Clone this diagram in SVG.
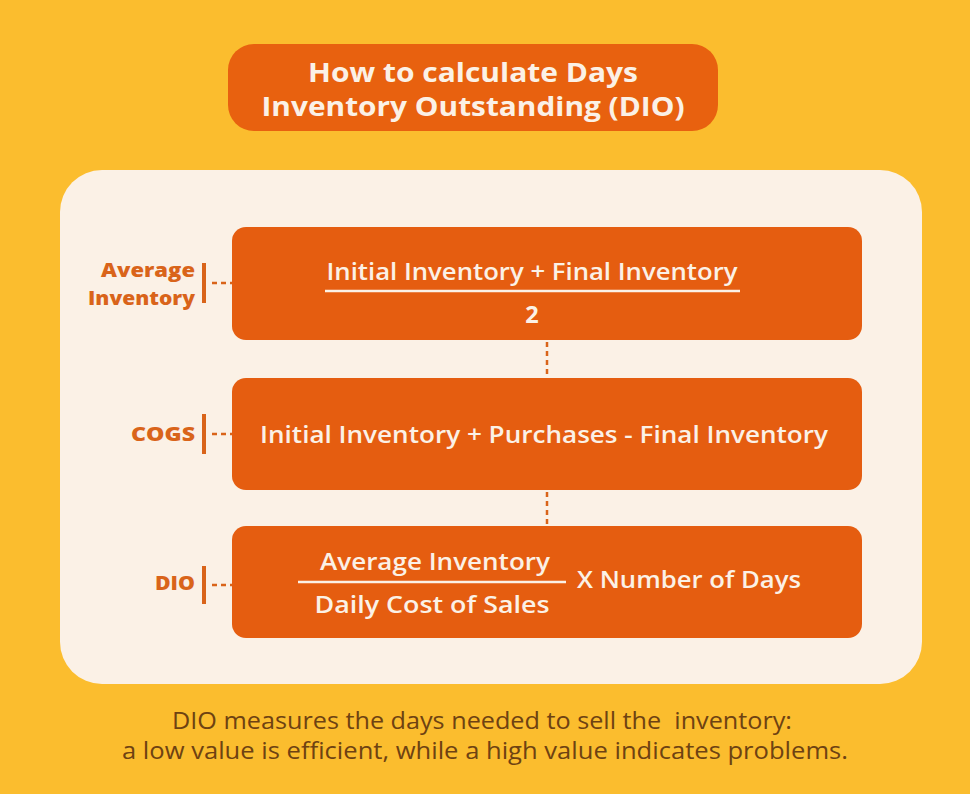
<svg xmlns="http://www.w3.org/2000/svg" width="970" height="794" viewBox="0 0 970 794">
<style>
.box{fill:#E55D10}
.wt{fill:#FBF1E6;font-family:"Open Sans","Noto Sans",sans-serif;font-weight:600;font-size:23.5px;text-anchor:middle}
.tt{font-weight:700;font-size:27.5px}
.lbl{fill:#D9641A;font-family:"Open Sans","Noto Sans",sans-serif;font-weight:800;font-size:20px;text-anchor:end}
.bar{stroke:#D9641A;stroke-width:4}
.dash{stroke:#D9641A;stroke-width:2.5;stroke-dasharray:5 4;fill:none}
.rule{stroke:#FBF1E6;stroke-width:2.5}
.foot{fill:#6E4212;font-family:"Open Sans","Noto Sans",sans-serif;font-size:23.5px;text-anchor:middle;white-space:pre}
</style>
<rect width="970" height="794" fill="#FBBD2E"/>
<g id="title">
<rect x="228" y="44" width="490" height="87" rx="26" fill="#E8610F"/>
<text class="wt tt" x="473" y="82" textLength="330" lengthAdjust="spacingAndGlyphs">How to calculate Days</text>
<text class="wt tt" x="473" y="116" textLength="423" lengthAdjust="spacingAndGlyphs">Inventory Outstanding (DIO)</text>
</g>
<rect id="panel" x="60" y="170" width="862" height="514" rx="42" fill="#FBF1E6"/>
<g id="connectors">
<line class="dash" x1="547" y1="342" x2="547" y2="377"/>
<line class="dash" x1="547" y1="492" x2="547" y2="525"/>
<line class="dash" x1="212" y1="283" x2="232" y2="283"/>
<line class="dash" x1="212" y1="434" x2="232" y2="434"/>
<line class="dash" x1="212" y1="585" x2="232" y2="585"/>
</g>
<g id="avg-inventory">
<text class="lbl" x="195" y="277" textLength="94" lengthAdjust="spacingAndGlyphs">Average</text>
<text class="lbl" x="195" y="305" textLength="107" lengthAdjust="spacingAndGlyphs">Inventory</text>
<line class="bar" x1="204" y1="263" x2="204" y2="303"/>
<rect class="box" x="232" y="227" width="630" height="113" rx="14"/>
<text class="wt" x="532" y="280" textLength="411" lengthAdjust="spacingAndGlyphs">Initial Inventory + Final Inventory</text>
<line class="rule" x1="325" y1="291" x2="740" y2="291"/>
<text class="wt" x="532" y="323" style="font-weight:700">2</text>
</g>
<g id="cogs">
<text class="lbl" x="195" y="441" textLength="64" lengthAdjust="spacingAndGlyphs">COGS</text>
<line class="bar" x1="204" y1="414" x2="204" y2="454"/>
<rect class="box" x="232" y="378" width="630" height="112" rx="14"/>
<text class="wt" x="544" y="443" textLength="568" lengthAdjust="spacingAndGlyphs">Initial Inventory + Purchases - Final Inventory</text>
</g>
<g id="dio">
<text class="lbl" x="195" y="590" textLength="40" lengthAdjust="spacingAndGlyphs">DIO</text>
<line class="bar" x1="204" y1="566" x2="204" y2="604"/>
<rect class="box" x="232" y="526" width="630" height="112" rx="14"/>
<text class="wt" x="435" y="570" textLength="230" lengthAdjust="spacingAndGlyphs">Average Inventory</text>
<line class="rule" x1="298" y1="582" x2="566" y2="582"/>
<text class="wt" x="432" y="613" textLength="235" lengthAdjust="spacingAndGlyphs">Daily Cost of Sales</text>
<text class="wt" x="577" y="588" style="text-anchor:start" textLength="224" lengthAdjust="spacingAndGlyphs">X Number of Days</text>
</g>
<g id="footer">
<text class="foot" x="482" y="729" textLength="620" lengthAdjust="spacingAndGlyphs">DIO measures the days needed to sell the  inventory:</text>
<text class="foot" x="485" y="759" textLength="726" lengthAdjust="spacingAndGlyphs">a low value is efficient, while a high value indicates problems.</text>
</g>
</svg>
